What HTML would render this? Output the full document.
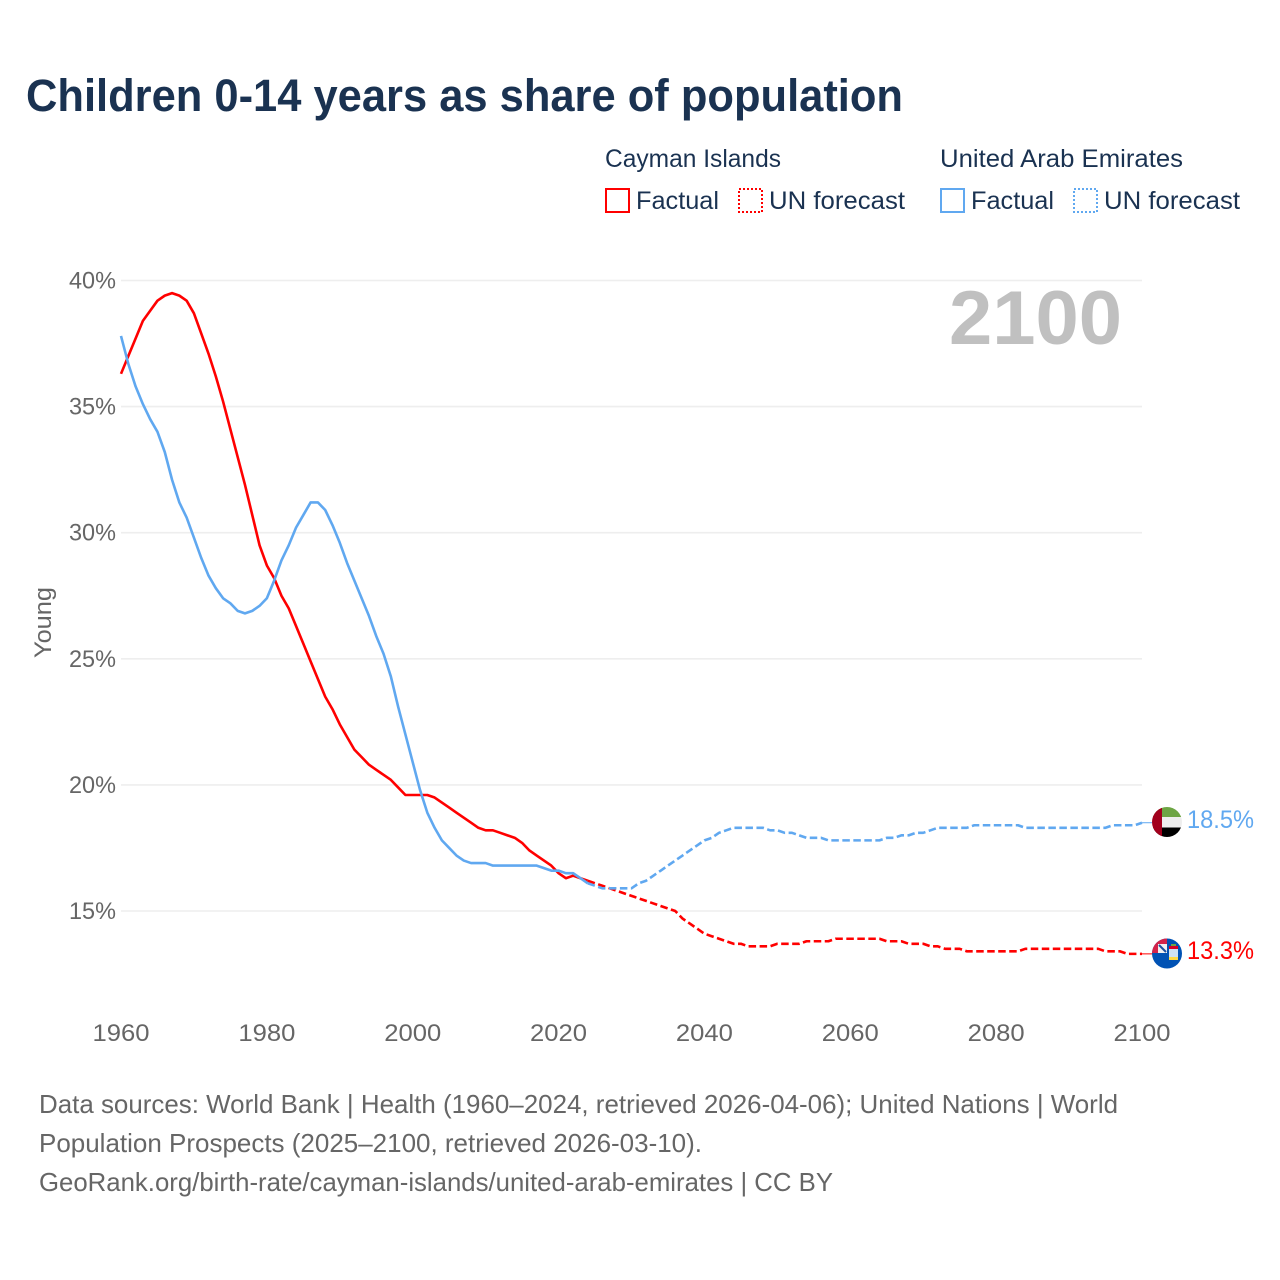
<!DOCTYPE html>
<html lang="en">
<head>
<meta charset="utf-8">
<title>Children 0-14 years as share of population</title>
<style>
html,body{margin:0;padding:0;background:#fff;width:1280px;height:1280px;overflow:hidden}
svg{display:block}
text{font-family:"Liberation Sans",sans-serif}
</style>
</head>
<body>
<svg id="chart" width="1280" height="1280" viewBox="0 0 1280 1280" xmlns="http://www.w3.org/2000/svg">
  <defs>
    <clipPath id="uae-clip"><circle cx="1167" cy="822" r="15"/></clipPath>
    <clipPath id="cayman-clip"><circle cx="1167" cy="953.5" r="15"/></clipPath>
  </defs>
  <rect width="1280" height="1280" fill="#fff"/>
  <text x="26" y="111" font-size="45" font-weight="700" fill="#1a3251" textLength="877" lengthAdjust="spacingAndGlyphs">Children 0-14 years as share of population</text>

  <g font-size="25" fill="#1a3251">
    <text x="605" y="167" textLength="176" lengthAdjust="spacingAndGlyphs">Cayman Islands</text>
    <rect x="606" y="189" width="23" height="23" fill="none" stroke="#ff0000" stroke-width="2"/>
    <text x="636" y="209" textLength="83" lengthAdjust="spacingAndGlyphs">Factual</text>
    <rect x="739" y="189" width="23" height="23" fill="none" stroke="#ff0000" stroke-width="2" stroke-dasharray="2 2"/>
    <text x="769" y="209" textLength="136" lengthAdjust="spacingAndGlyphs">UN forecast</text>
    <text x="940" y="167" textLength="243" lengthAdjust="spacingAndGlyphs">United Arab Emirates</text>
    <rect x="941" y="189" width="23" height="23" fill="none" stroke="#60a8f0" stroke-width="2"/>
    <text x="971" y="209" textLength="83" lengthAdjust="spacingAndGlyphs">Factual</text>
    <rect x="1074" y="189" width="23" height="23" fill="none" stroke="#60a8f0" stroke-width="2" stroke-dasharray="2 2"/>
    <text x="1104" y="209" textLength="136" lengthAdjust="spacingAndGlyphs">UN forecast</text>
  </g>

  <g id="grid"></g>
  <g id="y-ticks"></g>
  <g id="x-ticks"></g>
  <text transform="translate(51 622.500) rotate(-90)" text-anchor="middle" font-size="24" fill="#666" textLength="71" lengthAdjust="spacingAndGlyphs">Young</text>
  <text x="949" y="344" font-size="76" font-weight="700" fill="#c0c0c0" textLength="173" lengthAdjust="spacingAndGlyphs">2100</text>

  <g id="series"></g>

  <g clip-path="url(#uae-clip)">
    <rect x="1152" y="807" width="30" height="10" fill="#6da544"/>
    <rect x="1152" y="817" width="30" height="10.500" fill="#eeeeee"/>
    <rect x="1152" y="827.500" width="30" height="10" fill="#000"/>
    <rect x="1152" y="807" width="10" height="30" fill="#a2001d"/>
  </g>
  <g clip-path="url(#cayman-clip)">
    <rect x="1152" y="938" width="30" height="31" fill="#0052b4"/>
    <rect x="1152" y="938" width="15" height="15" fill="#d2234a"/>
    <rect x="1158" y="944" width="9" height="9" fill="#f0f0f0"/>
    <path d="M1159 945 L1166 952" stroke="#1a4fa0" stroke-width="2"/>
    <rect x="1169" y="946" width="9" height="3" fill="#d80027"/>
    <rect x="1169" y="949" width="9" height="8" fill="#cfe2f3"/>
    <rect x="1169" y="957" width="9" height="3" fill="#ffda44"/>
    <rect x="1171" y="944" width="5" height="2" fill="#6da544"/>
  </g>

  <text id="end-label-uae" x="1187" y="828" font-size="25" fill="#60a8f0" textLength="67" lengthAdjust="spacingAndGlyphs"></text>
  <text id="end-label-cayman" x="1187" y="959" font-size="25" fill="#ff0000" textLength="67" lengthAdjust="spacingAndGlyphs"></text>

  <g font-size="26" fill="#666">
    <text x="39" y="1113" textLength="1079" lengthAdjust="spacingAndGlyphs">Data sources: World Bank | Health (1960–2024, retrieved 2026-04-06); United Nations | World</text>
    <text x="39" y="1152" textLength="663" lengthAdjust="spacingAndGlyphs">Population Prospects (2025–2100, retrieved 2026-03-10).</text>
    <text x="39" y="1191" textLength="794" lengthAdjust="spacingAndGlyphs">GeoRank.org/birth-rate/cayman-islands/united-arab-emirates | CC BY</text>
  </g>
</svg>
<script>
const startYear = 1960;
const lastFactualYear = 2024;
const yTickValues = [15, 20, 25, 30, 35, 40];
const xTickValues = [1960, 1980, 2000, 2020, 2040, 2060, 2080, 2100];
const caymanValues = [
  36.3,37.0,37.7,38.4,38.8,39.2,39.4,39.5,39.4,39.2,
  38.7,37.9,37.1,36.2,35.2,34.1,33.0,31.9,30.7,29.5,
  28.7,28.2,27.5,27.0,26.3,25.6,24.9,24.2,23.5,23.0,
  22.4,21.9,21.4,21.1,20.8,20.6,20.4,20.2,19.9,19.6,
  19.6,19.6,19.6,19.5,19.3,19.1,18.9,18.7,18.5,18.3,
  18.2,18.2,18.1,18.0,17.9,17.7,17.4,17.2,17.0,16.8,
  16.5,16.3,16.4,16.3,16.2,16.1,16.0,15.9,15.8,15.7,
  15.6,15.5,15.4,15.3,15.2,15.1,15.0,14.7,14.5,14.3,
  14.1,14.0,13.9,13.8,13.7,13.7,13.6,13.6,13.6,13.6,
  13.7,13.7,13.7,13.7,13.8,13.8,13.8,13.8,13.9,13.9,
  13.9,13.9,13.9,13.9,13.9,13.8,13.8,13.8,13.7,13.7,
  13.7,13.6,13.6,13.5,13.5,13.5,13.4,13.4,13.4,13.4,
  13.4,13.4,13.4,13.4,13.5,13.5,13.5,13.5,13.5,13.5,
  13.5,13.5,13.5,13.5,13.5,13.4,13.4,13.4,13.3,13.3,13.3
];
const uaeValues = [
  37.8,36.7,35.8,35.1,34.5,34.0,33.2,32.1,31.2,30.6,
  29.8,29.0,28.3,27.8,27.4,27.2,26.9,26.8,26.9,27.1,
  27.4,28.1,28.9,29.5,30.2,30.7,31.2,31.2,30.9,30.3,
  29.6,28.8,28.1,27.4,26.7,25.9,25.2,24.3,23.1,22.0,
  20.9,19.8,18.9,18.3,17.8,17.5,17.2,17.0,16.9,16.9,
  16.9,16.8,16.8,16.8,16.8,16.8,16.8,16.8,16.7,16.6,
  16.6,16.5,16.5,16.3,16.1,16.0,15.9,15.9,15.9,15.9,
  15.9,16.1,16.2,16.4,16.6,16.8,17.0,17.2,17.4,17.6,
  17.8,17.9,18.1,18.2,18.3,18.3,18.3,18.3,18.3,18.2,
  18.2,18.1,18.1,18.0,17.9,17.9,17.9,17.8,17.8,17.8,
  17.8,17.8,17.8,17.8,17.8,17.9,17.9,18.0,18.0,18.1,
  18.1,18.2,18.3,18.3,18.3,18.3,18.3,18.4,18.4,18.4,
  18.4,18.4,18.4,18.4,18.3,18.3,18.3,18.3,18.3,18.3,
  18.3,18.3,18.3,18.3,18.3,18.3,18.4,18.4,18.4,18.4,18.5
];

const SVGNS = 'http://www.w3.org/2000/svg';
const redColor = '#ff0000';
const blueColor = '#60a8f0';
function xScale(year) { return 121 + (year - 1960) * (1142 - 121) / 140; }
function yScale(v) { return 280.5 + (40 - v) * 25.22; }
function pointsFor(values, fromYear, toYear) {
  const out = [];
  for (let yr = fromYear; yr <= toYear; yr++) {
    out.push(xScale(yr).toFixed(2) + ',' + yScale(values[yr - startYear]).toFixed(2));
  }
  return out.join(' ');
}
function makeLine(parent, values, fromYear, toYear, color, dashed) {
  const el = document.createElementNS(SVGNS, 'polyline');
  el.setAttribute('points', pointsFor(values, fromYear, toYear));
  el.setAttribute('fill', 'none');
  el.setAttribute('stroke', color);
  el.setAttribute('stroke-width', '2.6');
  el.setAttribute('stroke-linejoin', 'round');
  if (dashed) el.setAttribute('stroke-dasharray', '7.5 3.5');
  parent.appendChild(el);
  return el;
}

const grid = document.getElementById('grid');
const yTicks = document.getElementById('y-ticks');
yTickValues.forEach(function (v) {
  const ln = document.createElementNS(SVGNS, 'line');
  
  
  ln.setAttribute('x1', 121);
  ln.setAttribute('x2', 1142);
  ln.setAttribute('y1', yScale(v));
  ln.setAttribute('y2', yScale(v));
  ln.setAttribute('stroke', '#eeeeee');
  ln.setAttribute('stroke-width', '1.6');
  grid.appendChild(ln);
  const t = document.createElementNS(SVGNS, 'text');
  
  
  t.setAttribute('x', 69);
  t.setAttribute('y', yScale(v) + 8);
  t.setAttribute('font-size', '24');
  t.setAttribute('fill', '#666');
  t.setAttribute('textLength', '47');
  t.setAttribute('lengthAdjust', 'spacingAndGlyphs');
  t.textContent = v + '%';
  yTicks.appendChild(t);
});

const xTicks = document.getElementById('x-ticks');
xTickValues.forEach(function (yr) {
  const t = document.createElementNS(SVGNS, 'text');
  
  
  t.setAttribute('x', xScale(yr) - 28.5);
  t.setAttribute('y', 1041);
  t.setAttribute('font-size', '24');
  t.setAttribute('fill', '#666');
  t.setAttribute('textLength', '57');
  t.setAttribute('lengthAdjust', 'spacingAndGlyphs');
  t.textContent = yr;
  xTicks.appendChild(t);
});

const series = document.getElementById('series');
const caymanFactual = makeLine(series, caymanValues, startYear, lastFactualYear, redColor, false);


const caymanForecast = makeLine(series, caymanValues, lastFactualYear, 2100, redColor, true);


const uaeFactual = makeLine(series, uaeValues, startYear, lastFactualYear, blueColor, false);


const uaeForecast = makeLine(series, uaeValues, lastFactualYear, 2100, blueColor, true);



function makeConnector(values, color) {
  const v = values[values.length - 1];
  const ln = document.createElementNS(SVGNS, 'line');
  ln.setAttribute('x1', xScale(2100));
  ln.setAttribute('x2', 1153);
  ln.setAttribute('y1', yScale(v));
  ln.setAttribute('y2', yScale(v));
  ln.setAttribute('stroke', color);
  ln.setAttribute('stroke-width', '1');
  series.appendChild(ln);
  return ln;
}
const caymanConnector = makeConnector(caymanValues, redColor);


const uaeConnector = makeConnector(uaeValues, blueColor);



document.getElementById('end-label-uae').textContent = uaeValues[uaeValues.length - 1].toFixed(1) + '%';
document.getElementById('end-label-cayman').textContent = caymanValues[caymanValues.length - 1].toFixed(1) + '%';
</script>
</body>
</html>
